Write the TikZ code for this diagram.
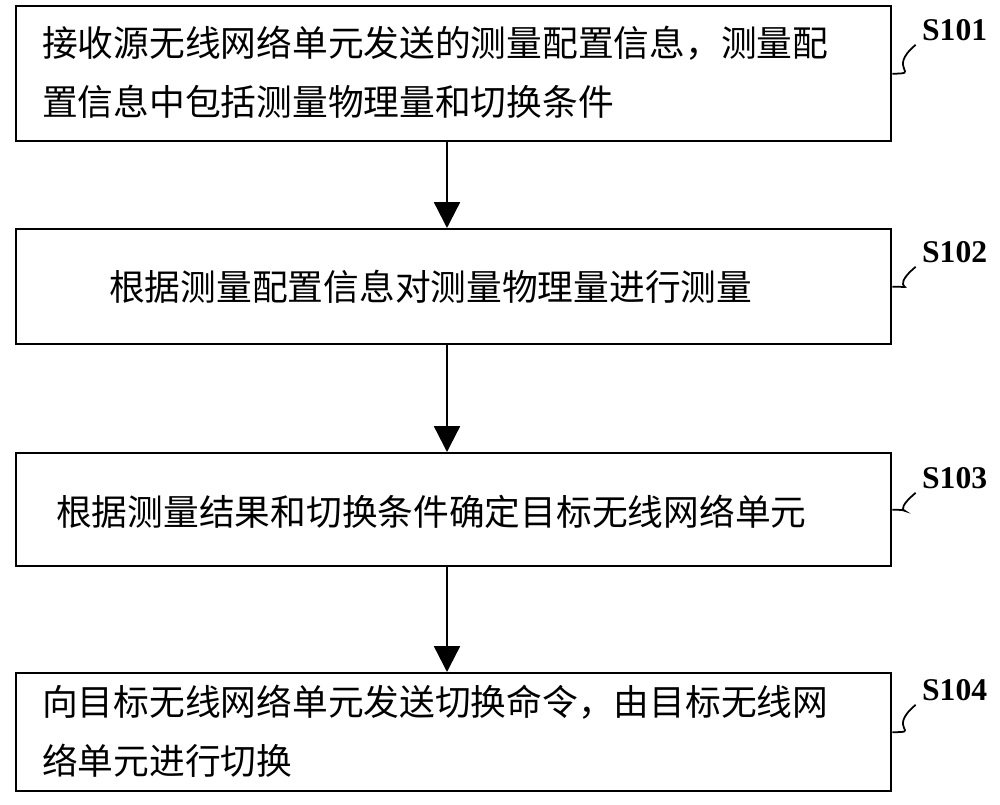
\documentclass[tikz,border=0pt]{standalone}
\usepackage{fontspec}
\setmainfont{Liberation Serif}
\newfontfamily\cjk{Noto Sans CJK SC}
\usetikzlibrary{arrows.meta}
\begin{document}
\begin{tikzpicture}[x=0.03cm,y=-0.03cm,
  box/.style={draw,line width=2pt,minimum width=875*0.03cm,anchor=north west,inner sep=0pt},
  txt/.style={font=\cjk\fontsize{30.5}{50}\selectfont,align=left,anchor=west},
  lab/.style={font=\bfseries\fontsize{27}{30}\selectfont,anchor=west},
  arr/.style={line width=2pt,-{Triangle[length=22pt,width=22pt]}},
  lead/.style={line width=1.5pt}]
\useasboundingbox (0,0) rectangle (1000,804);
\node[box,minimum height=135*0.03cm] (b1) at (15,5) {};
\node[box,minimum height=115*0.03cm] (b2) at (15,228) {};
\node[box,minimum height=113*0.03cm] (b3) at (15,452) {};
\node[box,minimum height=118*0.03cm] (b4) at (15,672) {};
\node[txt] (t1) at (38,72) {接收源无线网络单元发送的测量配置信息，测量配\\置信息中包括测量物理量和切换条件};
\node[txt] (t2) at (105,287) {根据测量配置信息对测量物理量进行测量};
\node[txt] (t3) at (52,512) {根据测量结果和切换条件确定目标无线网络单元};
\node[txt] (t4) at (38,731) {向目标无线网络单元发送切换命令，由目标无线网\\络单元进行切换};
\draw[arr] (b1.south -| 447,0) -- (b2.north -| 447,0);
\draw[arr] (b2.south -| 447,0) -- (b3.north -| 447,0);
\draw[arr] (b3.south -| 447,0) -- (b4.north -| 447,0);
\node[lab] (l1) at (918,30) {S101};
\node[lab] (l2) at (918,252) {S102};
\node[lab] (l3) at (918,478) {S103};
\node[lab] (l4) at (918,690) {S104};
\foreach \b/\l in {b1/l1,b2/l2,b3/l3,b4/l4}{
  \draw[lead] (\b.east) .. controls +(30,0) and +(-30,25) .. ([xshift=-2pt]\l.south west);
}
\end{tikzpicture}
\end{document}
